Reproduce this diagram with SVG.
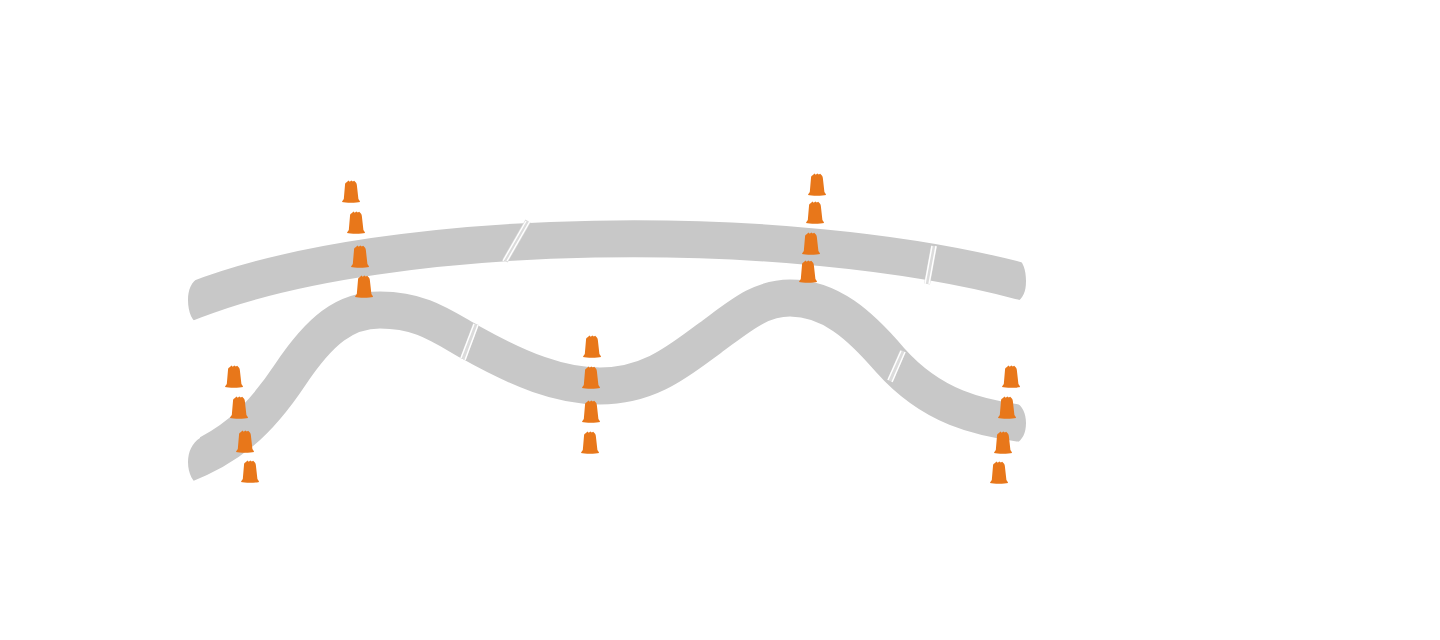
<svg xmlns="http://www.w3.org/2000/svg" xmlns:xlink="http://www.w3.org/1999/xlink" width="1440" height="640" viewBox="0 0 1440 640">
  <style>
    .band { fill: none; stroke: #C8C8C8; stroke-width: 37; stroke-linecap: butt; stroke-linejoin: round; }
    .brkbg { stroke: #DCDCDC; stroke-width: 6; fill: none; }
    .brk { stroke: #FFFFFF; stroke-width: 1.4; fill: none; }
    .cone { fill: #E8771A; }
  </style>
  <defs>
    <clipPath id="clipUpper">
      <path d="M200,150 L1012,150 L1012,255 C1022,258 1026,268 1026,281 C1026,294 1022,300 1012,305 L1012,340 L200,340 L200,325 C192,322 188,312 188,300 C188,290 191,282 200,276 Z"/>
    </clipPath>
    <clipPath id="clipLower">
      <path d="M200,260 L1012,260 L1012,400 C1021,404 1026,411 1026,423 C1026,435 1021,442 1012,446 L1012,520 L200,520 L200,487 C193,482 188,474 188,462 C188,452 192,443 200,438 Z"/>
    </clipPath>
    <path id="cone" class="cone" d="M-9,0 C-8.8,-1 -7.8,-1.8 -7.2,-3 L-6,-17 C-6,-18.8 -5.2,-19.6 -4,-20 L-2.6,-21.5 L-1.2,-20.3 L0.3,-21.6 L1.8,-20.4 L3.2,-21.2 L4.4,-20 C5.4,-19.2 5.8,-18 5.9,-16.5 L7.4,-3 C8,-1.8 9,-1 9,0 C6,1 -6,1 -9,0 Z"/>
  </defs>

  <rect width="1440" height="640" fill="#FFFFFF"/>

  <g id="upper-band">
    <path class="band" clip-path="url(#clipUpper)" d="M170,309.5 L195,300 C390,224 790,220 1020,281 L1045,287.7"/>
    <line class="brkbg" x1="528" y1="221" x2="505" y2="261"/>
    <line class="brk" x1="526" y1="221" x2="503" y2="261"/>
    <line class="brk" x1="530" y1="221" x2="507" y2="261"/>
    <line class="brkbg" x1="934" y1="246" x2="927" y2="284"/>
    <line class="brk" x1="932" y1="246" x2="925" y2="284"/>
    <line class="brk" x1="936" y1="246" x2="929" y2="284"/>
  </g>

  <g id="lower-band">
    <path class="band" clip-path="url(#clipLower)" d="M170,470 C230,450 260,420 290,375 C320,330 345,310 380,310 C420,310 440,325 470,342 C520,370 560,386 600,386 C650,386 680,360 710,338 C740,316 760,298 790,298 C830,298 860,325 890,360 C930,405 975,420 1045,426"/>
    <line class="brkbg" x1="476" y1="324" x2="463" y2="359"/>
    <line class="brk" x1="474" y1="324" x2="461" y2="358"/>
    <line class="brk" x1="478" y1="325" x2="465" y2="360"/>
    <line class="brkbg" x1="903" y1="351" x2="890" y2="381"/>
    <line class="brk" x1="901" y1="351" x2="888" y2="380"/>
    <line class="brk" x1="905" y1="352" x2="892" y2="382"/>
  </g>

  <g id="cones-left-upper">
    <use xlink:href="#cone" x="351" y="202"/>
    <use xlink:href="#cone" x="356" y="233"/>
    <use xlink:href="#cone" x="360" y="267"/>
    <use xlink:href="#cone" x="364" y="297"/>
  </g>
  <g id="cones-left-lower">
    <use xlink:href="#cone" x="234" y="387"/>
    <use xlink:href="#cone" x="239" y="418"/>
    <use xlink:href="#cone" x="245" y="452"/>
    <use xlink:href="#cone" x="250" y="482"/>
  </g>
  <g id="cones-middle">
    <use xlink:href="#cone" x="592" y="357"/>
    <use xlink:href="#cone" x="591" y="388"/>
    <use xlink:href="#cone" x="591" y="422"/>
    <use xlink:href="#cone" x="590" y="453"/>
  </g>
  <g id="cones-right-upper">
    <use xlink:href="#cone" x="817" y="195"/>
    <use xlink:href="#cone" x="815" y="223"/>
    <use xlink:href="#cone" x="811" y="254"/>
    <use xlink:href="#cone" x="808" y="282"/>
  </g>
  <g id="cones-right-lower">
    <use xlink:href="#cone" x="1011" y="387"/>
    <use xlink:href="#cone" x="1007" y="418"/>
    <use xlink:href="#cone" x="1003" y="453"/>
    <use xlink:href="#cone" x="999" y="483"/>
  </g>
</svg>
